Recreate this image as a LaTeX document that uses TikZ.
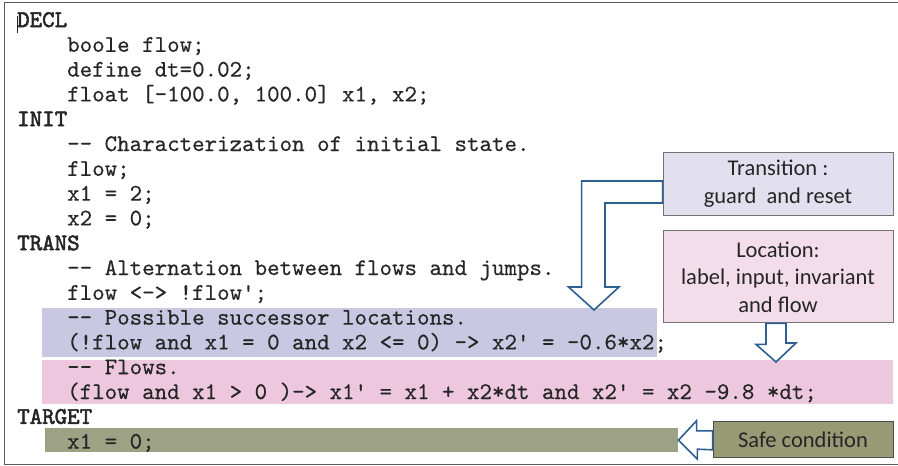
\documentclass[tikz,border=0pt]{standalone}
\usepackage{fontspec}
\setmainfont{Carlito}
\newfontfamily\codefont{lmmono10-regular.otf}[FakeBold=0.4]
\newfontfamily\keyfont{lmmono10-regular.otf}[FakeBold=2.2]
\usepackage{tikz}
\usetikzlibrary{positioning,calc}
\definecolor{CodeInk}{RGB}{38,38,38}
\definecolor{FrameGray}{RGB}{90,90,90}
\definecolor{ArrowBlue}{RGB}{45,95,145}
\definecolor{TransFill}{RGB}{226,224,239}
\definecolor{LocFill}{RGB}{243,221,234}
\definecolor{SafeFill}{RGB}{150,155,118}
\definecolor{GuardBand}{RGB}{200,200,227}
\definecolor{FlowBand}{RGB}{237,199,222}
\definecolor{TargetBand}{RGB}{157,162,133}
\newcommand{\codesize}{\fontsize{23.8}{25}\selectfont}
\newcommand{\notesize}{\fontsize{22.5}{27.5}\selectfont}
\tikzset{
	code/.style={anchor=base west,inner sep=0pt,text=CodeInk,font=\codesize\codefont},
	keyword/.style={code,font=\codesize\keyfont},
	band/.style={anchor=north west,inner sep=0pt,draw=none},
	note/.style={draw=black!55,line width=0.9pt,inner sep=0pt,align=center,
		font=\notesize,text=black!85,minimum width=230pt},
	blockarrow/.style={draw=ArrowBlue,fill=white,line width=1.6pt,line join=miter},
}

\begin{document}
\begin{tikzpicture}[x=1pt,y=-1pt]
	\useasboundingbox (0,0) rectangle (898,466);
	% editor frame (open on the right)
	\draw[FrameGray,line width=1.5pt] (898,2.5) -- (4.5,2.5) -- (4.5,464.5) -- (898,464.5);
	% highlighted parts of the listing
	\node[band,fill=GuardBand,minimum width=615pt,minimum height=49pt] (guard) at (42,308) {};
	\node[band,fill=FlowBand,minimum width=851pt,minimum height=44pt] (flows) at (42,360) {};
	\node[band,fill=TargetBand,minimum width=633pt,minimum height=24pt] (target) at (45,428) {};
	% the listing
	\foreach \n/\t in {1/DECL,5/INIT,10/TRANS,17/TARGET}
	\node[keyword] (line\n) at (17,{27+24.8*(\n-1)}) {\t};
	\foreach \n/\t in {2/{boole flow;},3/{define dt=0.02;},4/{float [-100.0, 100.0] x1, x2;},
		6/{-- Characterization of initial state.},7/{flow;},8/{x1 = 2;},9/{x2 = 0;},
		11/{-- Alternation between flows and jumps.},12/{flow <-> !flow';},
		13/{-- Possible successor locations.},
		14/{(!flow and x1 = 0 and x2 <= 0) -> x2' = -0.6*x2;},15/{-- Flows.},
		16/{(flow and x1 > 0 )-> x1' = x1 + x2*dt and x2' = x2 -9.8 *dt;},18/{x1 = 0;}}
	\node[code] (line\n) at (67,{27+24.8*(\n-1)}) {\t};
	\draw[CodeInk,line width=0.9pt] ($(line1.base west)+(0,6)$) -- ++(0,-17);
	% explanation boxes
	\node[note,fill=TransFill,minimum height=63pt] (trans) at (778,183.5) {Transition :\\guard~~and reset};
	\node[note,fill=LocFill,minimum height=92pt,below=15pt of trans] (loc) {Location:\\label, input, invariant\\and flow};
	\node[note,fill=SafeFill,draw=black!70,minimum width=180pt,minimum height=36pt,
		below=98pt of loc.south east,anchor=north east] (safe) {Safe condition};
	% arrow tips
	\coordinate (ttip) at (594,310);
	\coordinate (ltip) at (776,362);
	% block arrows
	\draw[blockarrow] ($(trans.west)+(0,-2.5)$) -- ++(-81,0) -- ++(0,106) -- ++(-13,0) -- (ttip)
		-- ++(25,-23) -- ++(-14,0) -- ++(0,-84) -- ($(trans.west)+(0,19.5)$) -- cycle;
	\draw[blockarrow] ($(loc.south)+(-12,0)$) -- ++(0,21) -- ++(-10,0) -- (ltip)
		-- ++(20,-19) -- ++(-10,0) -- ($(loc.south)+(8,0)$) -- cycle;
	\draw[blockarrow] ($(safe.west)+(0,-9)$) -- ++(-16,0) -- ++(0,-10) -- (target.east)
		-- ++(19,19) -- ++(0,-10) -- ($(safe.west)+(0,10)$) -- cycle;
\end{tikzpicture}
\end{document}
